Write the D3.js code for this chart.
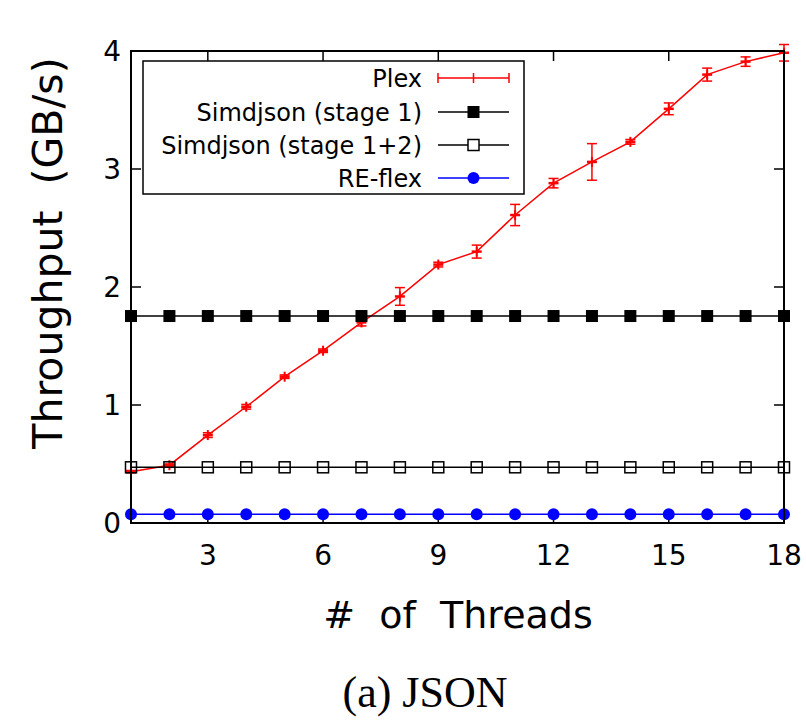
<!DOCTYPE html>
<html>
<head>
<meta charset="utf-8">
<title>JSON throughput</title>
<script src="https://cdn.jsdelivr.net/npm/d3@7"></script>
<style>
  body { margin: 0; background: #fff; }
  text { font-family: "DejaVu Sans", Verdana, sans-serif; }
</style>
</head>
<body>
<svg width="806" height="722"></svg>
<script>
  var threads = [1, 2, 3, 4, 5, 6, 7, 8, 9, 10, 11, 12, 13, 14, 15, 16, 17, 18];
  var plexMean = [0.435, 0.49, 0.745, 0.985, 1.24, 1.46, 1.70, 1.92, 2.19, 2.30, 2.61, 2.88, 3.06, 3.23, 3.51, 3.80, 3.91, 3.985];
  var plexErr = [0.01, 0.01, 0.02, 0.02, 0.015, 0.015, 0.03, 0.075, 0.02, 0.055, 0.09, 0.04, 0.155, 0.02, 0.05, 0.055, 0.04, 0.07];
  var simdStage1 = [1.754, 1.754, 1.754, 1.754, 1.754, 1.754, 1.754, 1.754, 1.754, 1.754, 1.754, 1.754, 1.754, 1.754, 1.754, 1.754, 1.754, 1.754];
  var simdStage12 = [0.472, 0.472, 0.472, 0.472, 0.472, 0.472, 0.472, 0.472, 0.472, 0.472, 0.472, 0.472, 0.472, 0.472, 0.472, 0.472, 0.472, 0.472];
  var reflex = [0.074, 0.074, 0.074, 0.074, 0.074, 0.074, 0.074, 0.074, 0.074, 0.074, 0.074, 0.074, 0.074, 0.074, 0.074, 0.074, 0.074, 0.074];
  var xTicks = [3, 6, 9, 12, 15, 18];
  var yTicks = [0, 1, 2, 3, 4];
  var seriesNames = ['Plex', 'Simdjson (stage 1)', 'Simdjson (stage 1+2)', 'RE-flex'];

  var svg = d3.select('svg');
  var x = d3.scaleLinear().domain([1, 18]).range([131, 784]);
  var y = d3.scaleLinear().domain([0, 4]).range([523, 51]);

  var line = function(vals) {
    return d3.line()
      .x(function(d, i) { return x(threads[i]); })
      .y(function(d) { return y(d); })(vals);
  };

  // tick marks (inward, mirrored)
  var ticks = svg.append('g').attr('stroke', '#000').attr('stroke-width', 1.5);
  xTicks.forEach(function(t) {
    ticks.append('line').attr('x1', x(t)).attr('x2', x(t)).attr('y1', y(0)).attr('y2', y(0) - 10);
    ticks.append('line').attr('x1', x(t)).attr('x2', x(t)).attr('y1', y(4)).attr('y2', y(4) + 10);
  });
  yTicks.forEach(function(t) {
    ticks.append('line').attr('x1', x(1)).attr('x2', x(1) + 10).attr('y1', y(t)).attr('y2', y(t));
    ticks.append('line').attr('x1', x(18)).attr('x2', x(18) - 10).attr('y1', y(t)).attr('y2', y(t));
  });

  svg.append('g').selectAll('text').data(xTicks).enter().append('text')
    .attr('x', function(d) { return x(d); })
    .attr('y', 565)
    .attr('text-anchor', 'middle')
    .attr('font-size', 28)
    .text(function(d) { return d; });

  svg.append('g').selectAll('text').data(yTicks).enter().append('text')
    .attr('x', 121)
    .attr('y', function(d) { return y(d); })
    .attr('dy', '0.36em')
    .attr('text-anchor', 'end')
    .attr('font-size', 28)
    .text(function(d) { return d; });

  // Plex
  var plex = svg.append('g').attr('stroke', '#ff0000').attr('fill', 'none').attr('stroke-width', 1.5);
  plex.append('path').attr('d', line(plexMean));
  threads.forEach(function(t, i) {
    var cx = x(t), hi = y(plexMean[i] + plexErr[i]), lo = y(plexMean[i] - plexErr[i]), cy = y(plexMean[i]);
    plex.append('line').attr('x1', cx).attr('x2', cx).attr('y1', hi).attr('y2', lo);
    plex.append('line').attr('x1', cx - 5).attr('x2', cx + 5).attr('y1', hi).attr('y2', hi);
    plex.append('line').attr('x1', cx - 5).attr('x2', cx + 5).attr('y1', lo).attr('y2', lo);
    plex.append('line').attr('x1', cx - 5).attr('x2', cx + 5).attr('y1', cy).attr('y2', cy).attr('stroke-width', 2.5);
    plex.append('line').attr('x1', cx).attr('x2', cx).attr('y1', cy - 5).attr('y2', cy + 5).attr('stroke-width', 2);
  });

  // Simdjson stage 1
  var s1 = svg.append('g');
  s1.append('path').attr('d', line(simdStage1)).attr('stroke', '#000').attr('stroke-width', 1.5).attr('fill', 'none');
  s1.selectAll('rect').data(simdStage1).enter().append('rect')
    .attr('x', function(d, i) { return x(threads[i]) - 6; })
    .attr('y', function(d) { return y(d) - 6; })
    .attr('width', 12).attr('height', 12).attr('fill', '#000');

  // Simdjson stage 1+2
  var s12 = svg.append('g');
  s12.append('path').attr('d', line(simdStage12)).attr('stroke', '#000').attr('stroke-width', 1.5).attr('fill', 'none');
  s12.selectAll('rect').data(simdStage12).enter().append('rect')
    .attr('x', function(d, i) { return x(threads[i]) - 5.5; })
    .attr('y', function(d) { return y(d) - 5.5; })
    .attr('width', 11).attr('height', 11).attr('fill', 'none').attr('stroke', '#000').attr('stroke-width', 1.5);

  // RE-flex
  var rf = svg.append('g');
  rf.append('path').attr('d', line(reflex)).attr('stroke', '#0000ff').attr('stroke-width', 1.5).attr('fill', 'none');
  rf.selectAll('circle').data(reflex).enter().append('circle')
    .attr('cx', function(d, i) { return x(threads[i]); })
    .attr('cy', function(d) { return y(d); })
    .attr('r', 6).attr('fill', '#0000ff');

  // border
  svg.append('rect').attr('x', x(1)).attr('y', y(4)).attr('width', x(18) - x(1)).attr('height', y(0) - y(4))
    .attr('fill', 'none').attr('stroke', '#000').attr('stroke-width', 2);

  // legend
  var lg = svg.append('g');
  lg.append('rect').attr('x', 143).attr('y', 61).attr('width', 381).attr('height', 133)
    .attr('fill', '#fff').attr('stroke', '#000').attr('stroke-width', 1.5);
  var rowY = [78, 112, 145, 178];
  seriesNames.forEach(function(name, i) {
    lg.append('text').attr('x', 422).attr('y', rowY[i]).attr('dy', '0.36em')
      .attr('text-anchor', 'end').attr('font-size', 24).text(name);
  });
  var lx1 = 438, lx2 = 509, lm = 473.5;
  var p = lg.append('g').attr('stroke', '#ff0000').attr('stroke-width', 1.5);
  p.append('line').attr('x1', lx1).attr('x2', lx2).attr('y1', rowY[0]).attr('y2', rowY[0]);
  [lx1, lx2].forEach(function(xx) {
    p.append('line').attr('x1', xx).attr('x2', xx).attr('y1', rowY[0] - 5).attr('y2', rowY[0] + 5);
  });
  p.append('line').attr('x1', lm).attr('x2', lm).attr('y1', rowY[0] - 5).attr('y2', rowY[0] + 5);
  lg.append('line').attr('x1', lx1).attr('x2', lx2).attr('y1', rowY[1]).attr('y2', rowY[1]).attr('stroke', '#000').attr('stroke-width', 1.5);
  lg.append('rect').attr('x', lm - 6).attr('y', rowY[1] - 6).attr('width', 12).attr('height', 12).attr('fill', '#000');
  lg.append('line').attr('x1', lx1).attr('x2', lx2).attr('y1', rowY[2]).attr('y2', rowY[2]).attr('stroke', '#000').attr('stroke-width', 1.5);
  lg.append('rect').attr('x', lm - 5.5).attr('y', rowY[2] - 5.5).attr('width', 11).attr('height', 11)
    .attr('fill', '#fff').attr('stroke', '#000').attr('stroke-width', 1.5);
  lg.append('line').attr('x1', lx1).attr('x2', lx2).attr('y1', rowY[3]).attr('y2', rowY[3]).attr('stroke', '#0000ff').attr('stroke-width', 1.5);
  lg.append('circle').attr('cx', lm).attr('cy', rowY[3]).attr('r', 6).attr('fill', '#0000ff');

  // axis titles
  svg.append('text').attr('transform', 'translate(62,253) rotate(-90)')
    .attr('text-anchor', 'middle').attr('font-size', 41).attr('xml:space', 'preserve')
    .text('Throughput  (GB/s)');
  svg.append('text').attr('x', 458).attr('y', 628)
    .attr('text-anchor', 'middle').attr('font-size', 38).attr('xml:space', 'preserve')
    .text('#  of  Threads');
  svg.append('text').attr('x', 425).attr('y', 707)
    .attr('text-anchor', 'middle').attr('font-size', 44)
    .style('font-family', '"Liberation Serif", "Times New Roman", serif')
    .text('(a) JSON');
</script>
</body>
</html>
